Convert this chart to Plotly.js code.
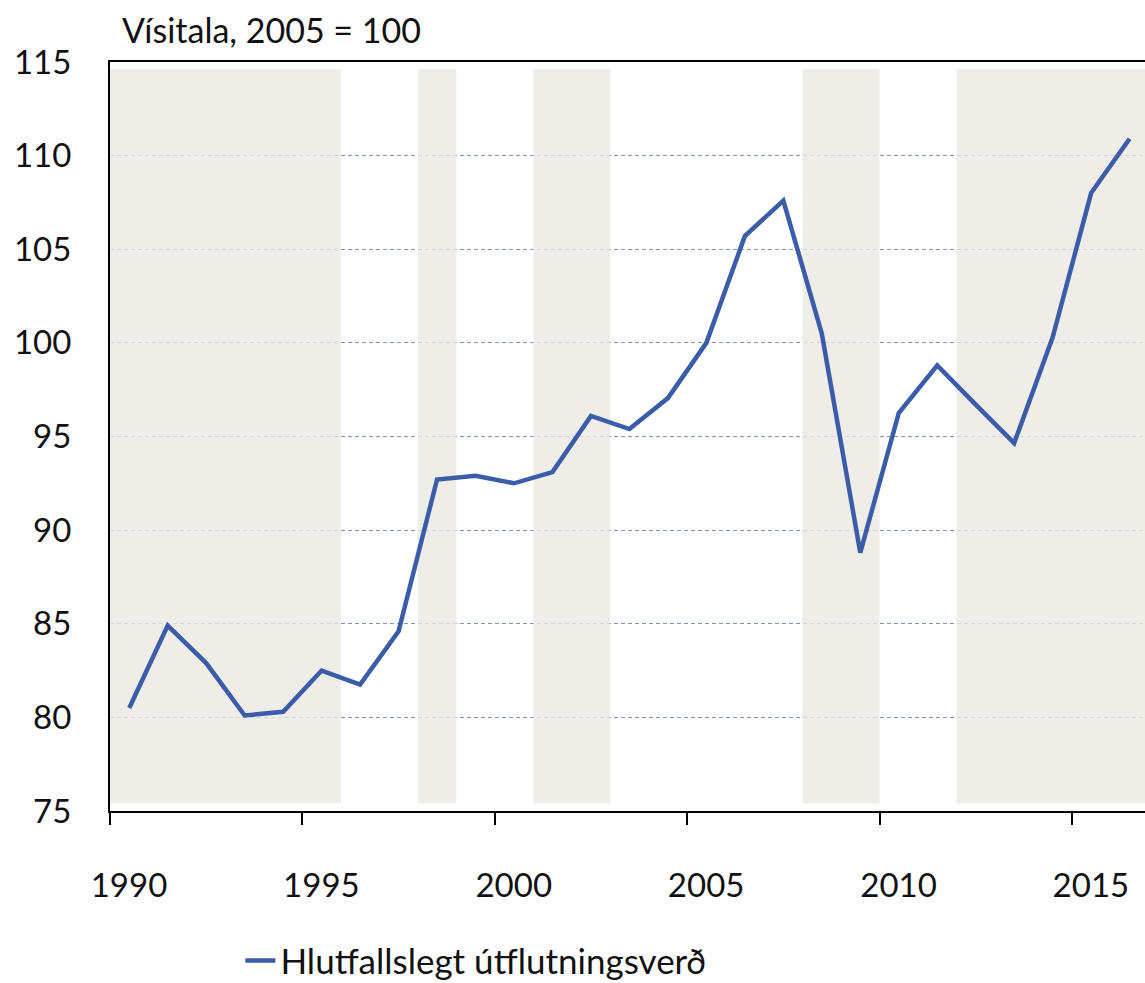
<!DOCTYPE html>
<html>
<head>
<meta charset="utf-8">
<script src="https://cdn.plot.ly/plotly-3.0.1.min.js"></script>
<style>html,body{margin:0;padding:0;background:#fff;}#chart{width:1145px;height:983px;}</style>
</head>
<body>
<div id="chart"></div>
<script>
// Data
const years = [1990,1991,1992,1993,1994,1995,1996,1997,1998,1999,2000,2001,2002,2003,2004,2005,2006,2007,2008,2009,2010,2011,2012,2013,2014,2015,2016];
const exportPrice = [80.5,84.9,82.9,80.1,80.3,82.5,81.75,84.6,92.7,92.9,92.5,93.1,96.1,95.4,97.05,100.0,105.7,107.6,100.5,88.8,96.25,98.8,96.7,94.65,100.3,108.0,110.9];
const seriesName = "Hlutfallslegt útflutningsverð";
const shadedStart = [1990,1998,2001,2008,2012];
const shadedEnd   = [1996,1999,2003,2010,2017];
const tickYears = [1990,1995,2000,2005,2010,2015];
const yTicks = [75,80,85,90,95,100,105,110,115];
const titleText = "Vísitala, 2005 = 100";

const FONT = "Lato, 'Open Sans', sans-serif";

const shapes = shadedStart.map((s,i)=>({
  type:'rect', xref:'x', yref:'y', x0:s, x1:shadedEnd[i], y0:75.4, y1:114.63,
  fillcolor:'rgba(234,232,226,0.78)', line:{width:0}, layer:'between'
}));

const trace = {
  x: years.map(y=>y+0.5),
  y: exportPrice,
  type:'scatter', mode:'lines', name:seriesName,
  line:{color:'#3B5CA8', width:4.5}
};

const layout = {
  width:1145, height:983,
  margin:{l:110, r:0, t:62, b:171.5, autoexpand:false},
  paper_bgcolor:'#fff', plot_bgcolor:'#fff',
  font:{family:FONT, size:33, color:'#111'},
  title:{text:titleText, xref:'container', x:122/1145, xanchor:'left', yref:'container', y:1-31/983, yanchor:'middle', font:{family:FONT, size:34, color:'#111'}},
  xaxis:{
    range:[1990, 2016.9], tickvals:tickYears, ticktext:tickYears.map(String),
    showgrid:false, zeroline:false,
    showline:true, linecolor:'#000', linewidth:2, mirror:true,
    ticks:'outside', ticklen:12, tickwidth:2, tickcolor:'#000',
    ticklabelshift:19, ticklabelstandoff:32,
    tickfont:{family:FONT, size:33, color:'#111'}
  },
  yaxis:{
    range:[75,115], tickvals:yTicks,
    showgrid:true, gridcolor:'#7F95C0', gridwidth:1, griddash:'4px,3px',
    zeroline:false, showline:true, linecolor:'#000', linewidth:2,
    ticks:'', ticklabelstandoff:30,
    tickfont:{family:FONT, size:33, color:'#111'}
  },
  shapes: shapes,
  showlegend:true,
  legend:{orientation:'h', x:0.126, xanchor:'left', yref:'paper', y:-0.2, yanchor:'middle', font:{family:FONT, size:35, color:'#111'}, bgcolor:'rgba(0,0,0,0)'}
};

Plotly.newPlot('chart', [trace], layout, {displayModeBar:false, staticPlot:true});
</script>
</body>
</html>
